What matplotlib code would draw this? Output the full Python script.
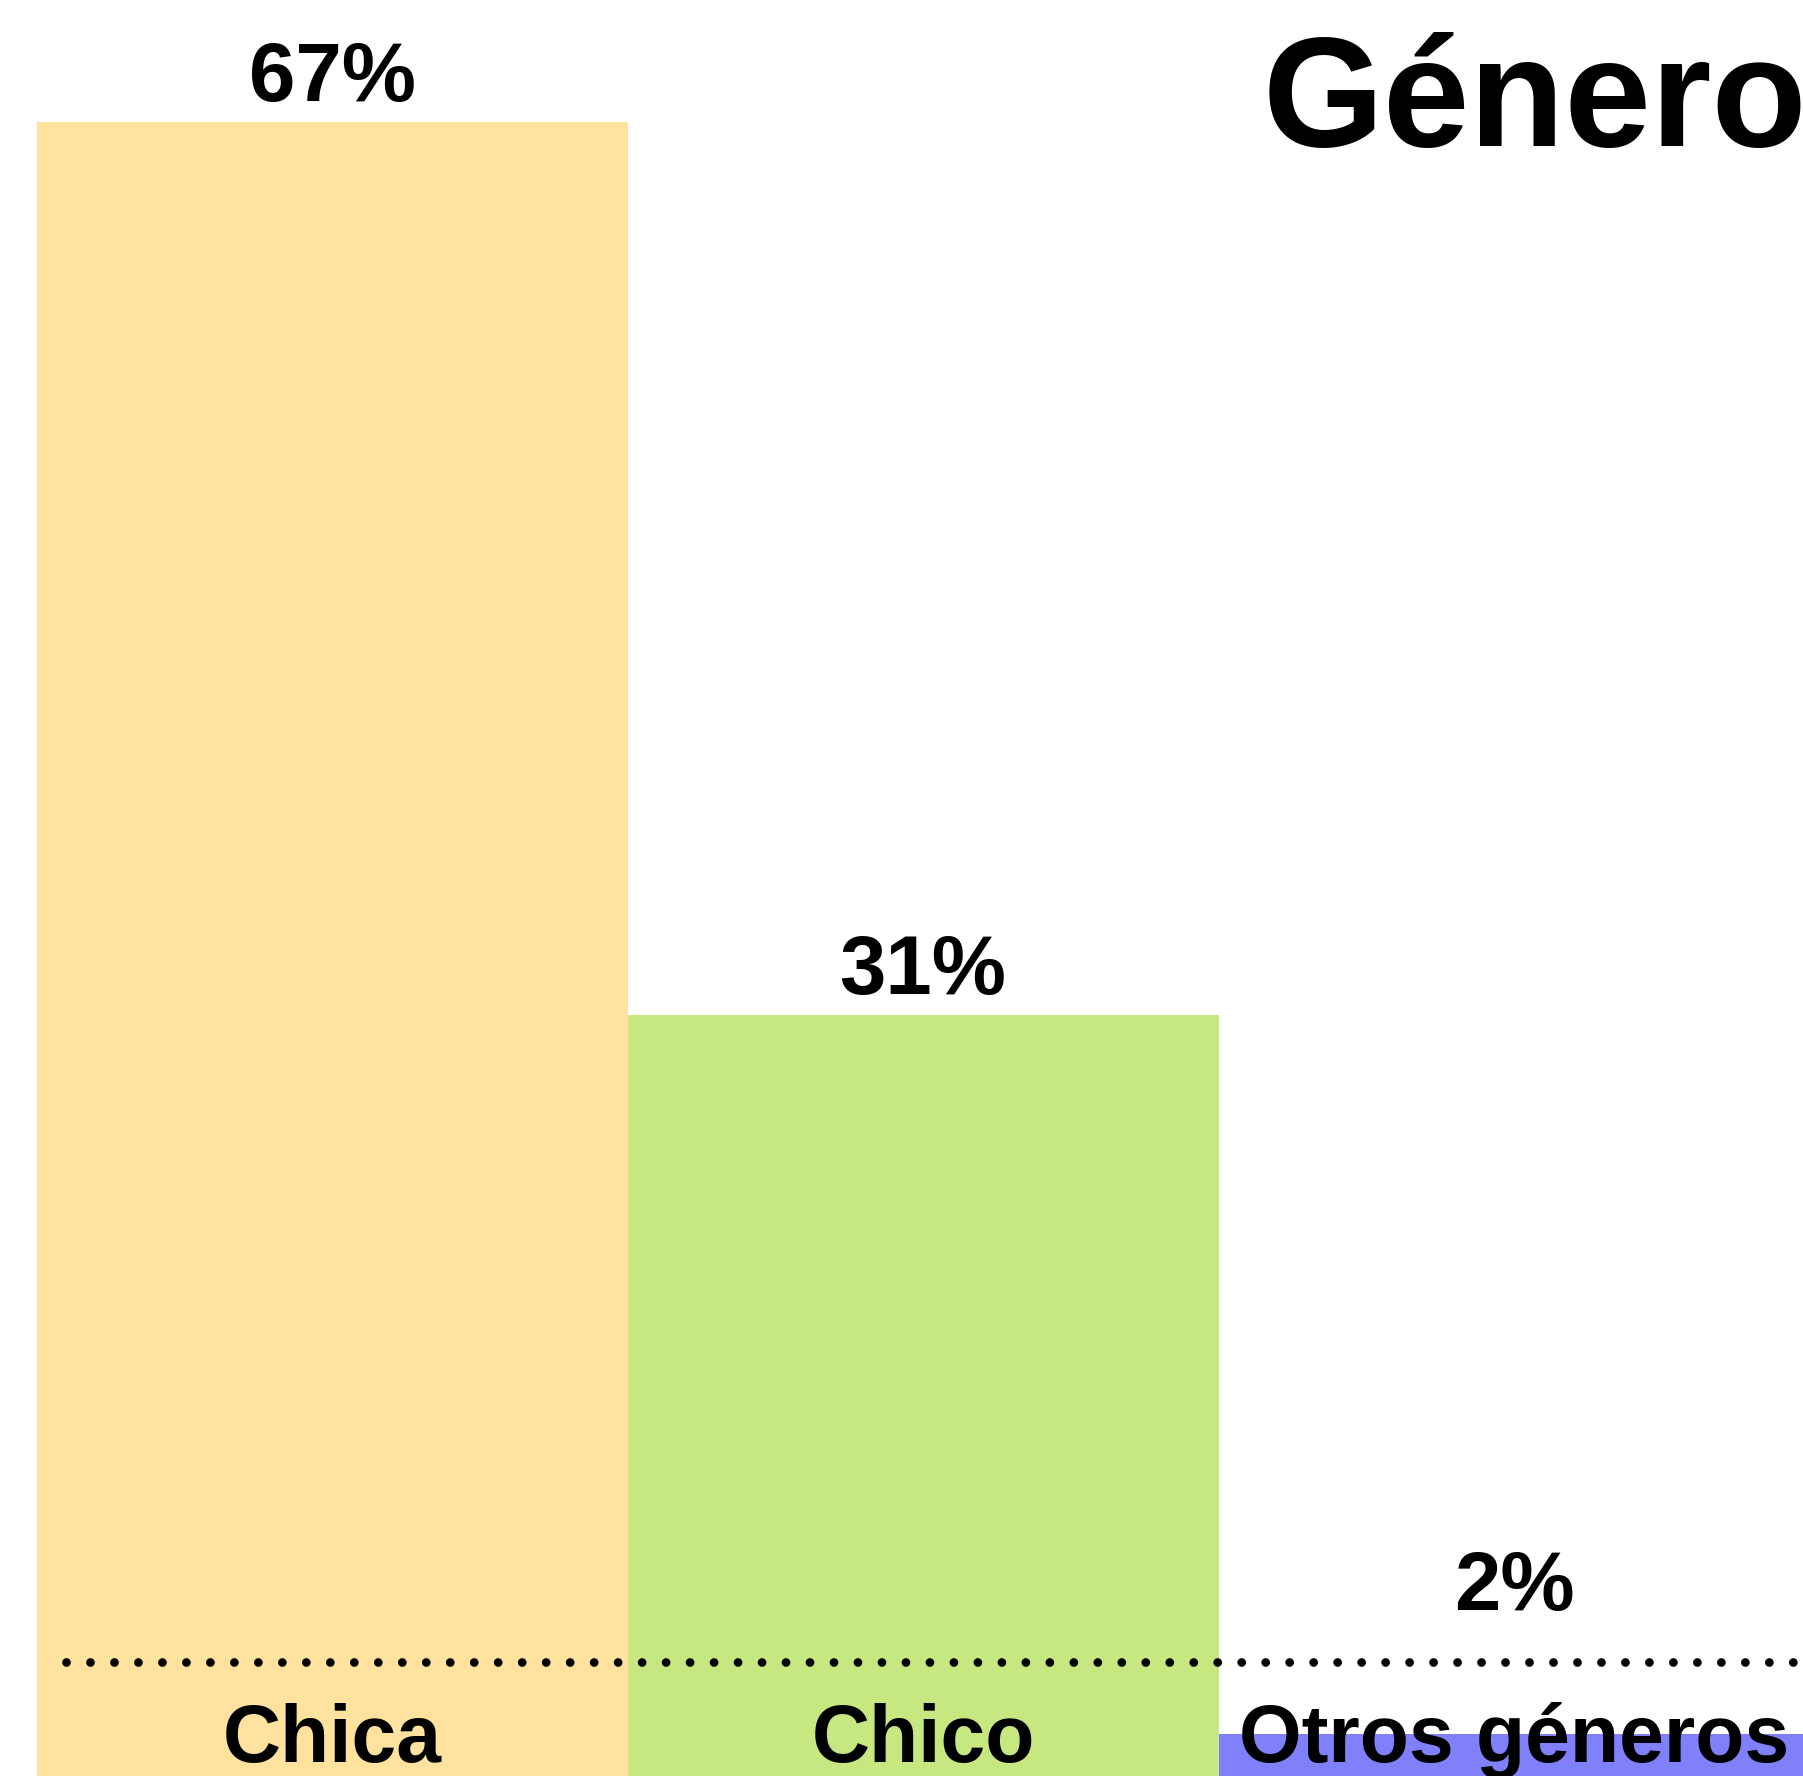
import matplotlib
matplotlib.use("Agg")
import matplotlib.pyplot as plt

categories = ["Chica", "Chico", "Otros géneros"]
values = [67, 31, 2]
value_labels = ["67%", "31%", "2%"]
colors = ["#FEE29D", "#C7E781", "#8080FB"]
title = "Género"

W, H, DPI = 1803, 1776, 100
fig = plt.figure(figsize=(W / DPI, H / DPI), dpi=DPI)
ax = fig.add_axes([0, 0, 1, 1])
ax.set_xlim(-0.562, 2.489)
ax.set_ylim(0.294, 71.94)
ax.axis("off")

font = dict(family=["Liberation Sans", "DejaVu Sans"], weight="bold")

x = list(range(len(categories)))
ax.bar(x, values, width=1.0, color=colors, edgecolor="none", bottom=0, zorder=1)

# dotted reference line
ax.plot([-0.45, 2.6], [4.9, 4.9], color="black", linewidth=6.3,
        linestyle=(0, (0.001, 2.74)), dash_capstyle="round", zorder=3,
        clip_on=False)

for xi, v, lab, cat in zip(x, values, value_labels, categories):
    ax.text(xi, max(v + 0.85, 7.0), lab, ha="center", va="baseline",
            fontsize=60, color="black", zorder=4, **font)
    ax.text(xi, 0.86, cat, ha="center", va="baseline",
            fontsize=58, color="black", zorder=4, **font)

fig.text(1263 / W, 1 - 146 / H, title, ha="left", va="baseline",
         fontsize=112, color="black", **font)

fig.savefig("out.png", dpi=DPI)
